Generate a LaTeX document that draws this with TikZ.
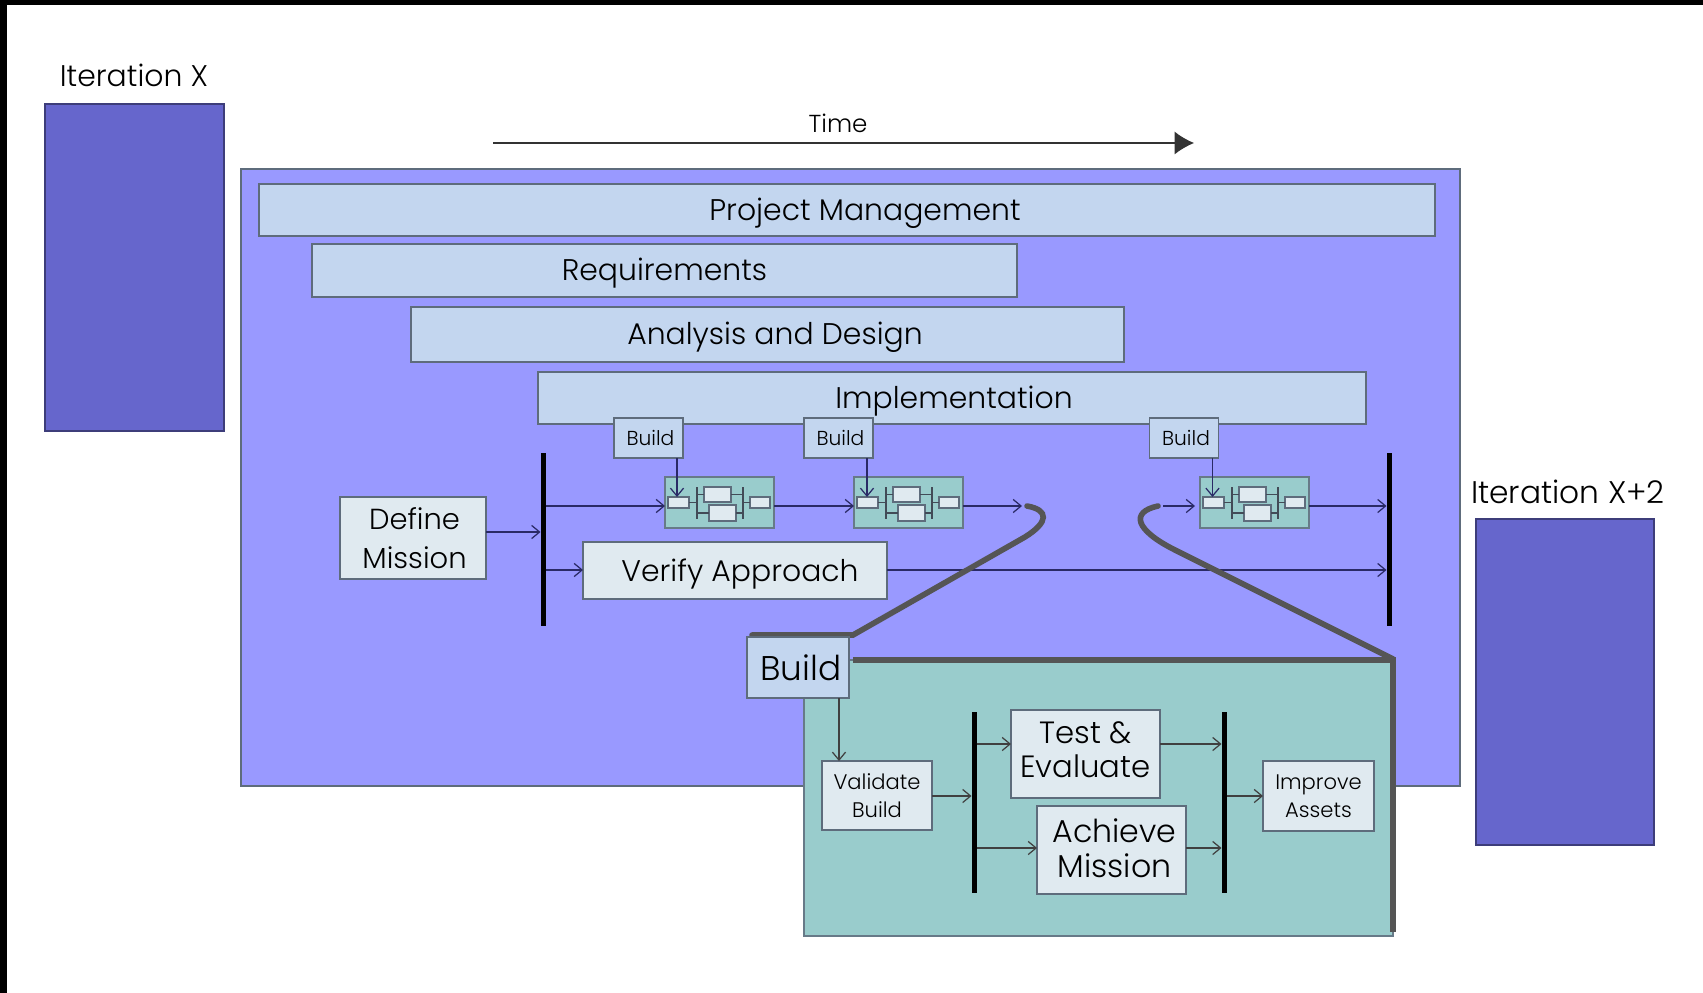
\documentclass[tikz,border=0pt]{standalone}
\usepackage{fontspec}
\setmainfont{Poppins Light}
\usetikzlibrary{arrows.meta}
\definecolor{phaseblue}{HTML}{9999FF}
\definecolor{iterblue}{HTML}{6666CC}
\definecolor{barblue}{HTML}{C3D6EF}
\definecolor{paleblue}{HTML}{E0EAF0}
\definecolor{buildteal}{HTML}{99CCCC}
\definecolor{edgegray}{HTML}{5E6C7C}
\definecolor{lensgray}{HTML}{555555}
\definecolor{flowink}{HTML}{2A2A66}
\tikzset{
    sized/.style 2 args={minimum width=#1*0.02cm, minimum height=#2*0.02cm},
    plainbox/.style={draw=edgegray, line width=0.8pt, inner sep=0pt, outer sep=0pt, align=center},
    iterbox/.style={plainbox, fill=iterblue, draw=iterblue!60!black},
    phasebar/.style={plainbox, fill=barblue, text depth=1.2pt, font=\fontsize{17}{20}\selectfont},
    buildtag/.style={plainbox, fill=barblue, font=\fontsize{11.5}{13}\selectfont},
    taskbox/.style={plainbox, fill=paleblue},
    tealbox/.style={plainbox, fill=buildteal, draw=edgegray!85!buildteal},
    joinbar/.style={fill=black, inner sep=0pt, outer sep=0pt, minimum width=0.1cm},
    flow/.style={-{Straight Barb[length=4.5pt,width=7.5pt]}, flowink, line width=0.7pt},
    innerflow/.style={-{Straight Barb[length=4.5pt,width=7.5pt]}, black!75, line width=0.7pt},
    minibar/.style={edgegray!70!black, line width=0.9pt},
    lens/.style={lensgray, line width=3.2pt, line cap=round}
}
\begin{document}
\begin{tikzpicture}[x=0.02cm, y=-0.02cm]
        \useasboundingbox (0,0) rectangle (1703,993);
        % Black edge of the screenshot
        \fill[black] (0,0) rectangle (1703,5);
        \fill[black] (0,0) rectangle (7,993);

        % Iterations either side
        \node[iterbox, sized={179}{327}] (iterX) at (134.5,267.5) {};
        \node[font=\fontsize{17}{19}\selectfont] (iterXlabel) at (134,75) {Iteration X};
        \node[iterbox, sized={178}{326}] (iterXtwo) at (1565,682) {};
        \node[font=\fontsize{17.8}{19}\selectfont] (iterXtwolabel) at (1568,492) {Iteration X+2};

        % Time arrow
        \node[font=\fontsize{14}{15}\selectfont] (timelabel) at (838,123) {Time};
        \coordinate (timestart) at (493,143);
        \coordinate (timeend) at (1194,143);
        \draw[-{Latex[length=11pt,width=13pt]}, black!80, line width=0.6pt] (timestart) -- (timeend);

        % Main iteration and phase bars
        \node[plainbox, fill=phaseblue, sized={1219}{617}] (iterMain) at (850.5,477.5) {};
        \node[phasebar, sized={1176}{52}] (project) at (847,210) {\hspace*{0.72cm}Project Management};
        \node[phasebar, sized={705}{53}] (reqs) at (664.5,270.5) {Requirements};
        \node[phasebar, sized={713}{55}] (design) at (767.5,334.5) {\hspace*{0.3cm}Analysis and Design};
        \node[phasebar, sized={828}{52}] (impl) at (952,398) {\hspace*{0.08cm}Implementation};

        % Flow line height and the two join bars
        \coordinate (flowline) at (0,506);
        \coordinate (verifyline) at (0,570);
        \coordinate (missionline) at (0,532);
        \node[joinbar, minimum height=3.46cm] (joinL) at (543,539.5) {};
        \node[joinbar, minimum height=3.46cm] (joinR) at (1389,539.5) {};

        \node[taskbox, sized={146}{82}, font=\fontsize{16.5}{22}\selectfont] (define) at (413,538) {\hspace*{0.06cm}Define\\\hspace*{0.06cm}Mission};
        \node[taskbox, sized={304}{57}, text depth=0pt, font=\fontsize{17}{19}\selectfont] (verify) at (735,570.5) {\hspace*{0.2cm}Verify Approach};

        % Little build pictures, one per build
        \foreach \n/\x/\t in {1/665/648.5, 2/854/838.5, 3/1200/1184} {
            \node[tealbox, anchor=north west, sized={109}{51}] (mini\n) at (\x,477) {};
            \node[buildtag, sized={69}{40}] (tag\n) at (\t,438) {\hspace*{0.08cm}Build};
            \begin{scope}[shift={(\x,477)}]
                \node[taskbox, sized={21}{11}] (miniA\n) at (13.5,25.5) {};
                \node[taskbox, sized={27}{15}] (miniB\n) at (52.5,17.5) {};
                \node[taskbox, sized={27}{16}] (miniC\n) at (57.5,36) {};
                \node[taskbox, sized={20}{11}] (miniD\n) at (95,25.5) {};
                \coordinate (miniL\n) at (32,10);
                \coordinate (miniLb\n) at (32,42);
                \coordinate (miniR\n) at (78,10);
                \coordinate (miniRb\n) at (78,42);
            \end{scope}
            \draw[minibar] (miniL\n) -- (miniLb\n);
            \draw[minibar] (miniR\n) -- (miniRb\n);
            \draw[minibar] (miniA\n.east) -- (miniL\n |- miniA\n);
            \draw[minibar] (miniD\n.west) -- (miniR\n |- miniD\n);
            \draw[minibar] (miniL\n |- miniB\n) -- (miniB\n.west);
            \draw[minibar] (miniB\n.east) -- (miniR\n |- miniB\n);
            \draw[minibar] (miniL\n |- miniC\n) -- (miniC\n.west);
            \draw[minibar] (miniC\n.east) -- (miniR\n |- miniC\n);
            \draw[flow] ([xshift=0.57cm]tag\n.south) -- ([xshift=0.57cm]tag\n.south |- miniA\n.north);
        }

        % Flow through the builds
        \coordinate (gapin) at (1022,506);
        \coordinate (gapout) at (1163,506);
        \draw[flow] (define.east |- missionline) -- (joinL.west |- missionline);
        \draw[flow] (joinL.east |- flowline) -- (mini1.west |- flowline);
        \draw[flow] (mini1.east |- flowline) -- (mini2.west |- flowline);
        \draw[flow] (mini2.east |- flowline) -- (gapin);
        \draw[flow] (gapout) -- ([xshift=-0.1cm]mini3.west |- flowline);
        \draw[flow] (mini3.east |- flowline) -- (joinR.west |- flowline);
        \draw[flow] (joinL.east |- verifyline) -- (verify.west |- verifyline);
        \draw[flow] (verify.east |- verifyline) -- (joinR.west |- verifyline);

        % Zoom lines out of the gap
        \coordinate (lensLtop) at (1027,506);
        \coordinate (lensLbend) at (1025,537);
        \coordinate (lensLfoot) at (853,635);
        \coordinate (lensLend) at (752,635);
        \coordinate (lensRtop) at (1158,506);
        \coordinate (lensRbend) at (1175,550);
        \coordinate (lensRfoot) at (1393,659);
        \draw[lens] (lensLtop) .. controls (1049,510) and (1049,522) .. (lensLbend) -- (lensLfoot) -- (lensLend);
        \draw[lens] (lensRtop) .. controls (1130,512) and (1135,530) .. (lensRbend) -- (lensRfoot);

        % One build, blown up
        \node[tealbox, sized={589}{276}] (buildMain) at (1098.5,798) {};
        \draw[lens, line cap=butt] (lensLfoot |- buildMain.north) -- (buildMain.north east) -- ([yshift=0.08cm]buildMain.south east);
        \node[plainbox, fill=barblue, sized={102}{61}, font=\fontsize{19.5}{21}\selectfont] (buildBig) at (798,667.5) {\hspace*{0.12cm}\raisebox{-1.5pt}{Build}};

        \node[taskbox, sized={110}{69}, font=\fontsize{12}{16}\selectfont] (validate) at (877,795.5) {Validate\\Build};
        \node[taskbox, sized={149}{88}, text depth=5pt, font=\fontsize{17.5}{19}\selectfont] (testeval) at (1085.5,754) {Test \&\\Evaluate};
        \node[taskbox, sized={149}{88}, text depth=2.4pt, font=\fontsize{18}{20}\selectfont] (achieve) at (1111.5,850) {\hspace*{0.12cm}Achieve\\\hspace*{0.12cm}Mission};
        \node[taskbox, sized={111}{70}, font=\fontsize{12}{16}\selectfont] (improve) at (1318.5,796) {Improve\\Assets};
        \node[joinbar, minimum height=3.62cm] (joinA) at (974,802.5) {};
        \node[joinbar, minimum height=3.62cm] (joinB) at (1224,802.5) {};

        \coordinate (testline) at (0,744);
        \coordinate (achieveline) at (0,848);
        \coordinate (midline) at (0,796);
        \draw[innerflow] ([xshift=0.82cm]buildBig.south) -- ([xshift=0.82cm]buildBig.south |- validate.north);
        \draw[innerflow] (validate.east |- midline) -- (joinA.west |- midline);
        \draw[innerflow] (joinA.east |- testline) -- (testeval.west |- testline);
        \draw[innerflow] (testeval.east |- testline) -- (joinB.west |- testline);
        \draw[innerflow] (joinA.east |- achieveline) -- (achieve.west |- achieveline);
        \draw[innerflow] (achieve.east |- achieveline) -- (joinB.west |- achieveline);
        \draw[innerflow] (joinB.east |- midline) -- (improve.west |- midline);
\end{tikzpicture}
\end{document}
